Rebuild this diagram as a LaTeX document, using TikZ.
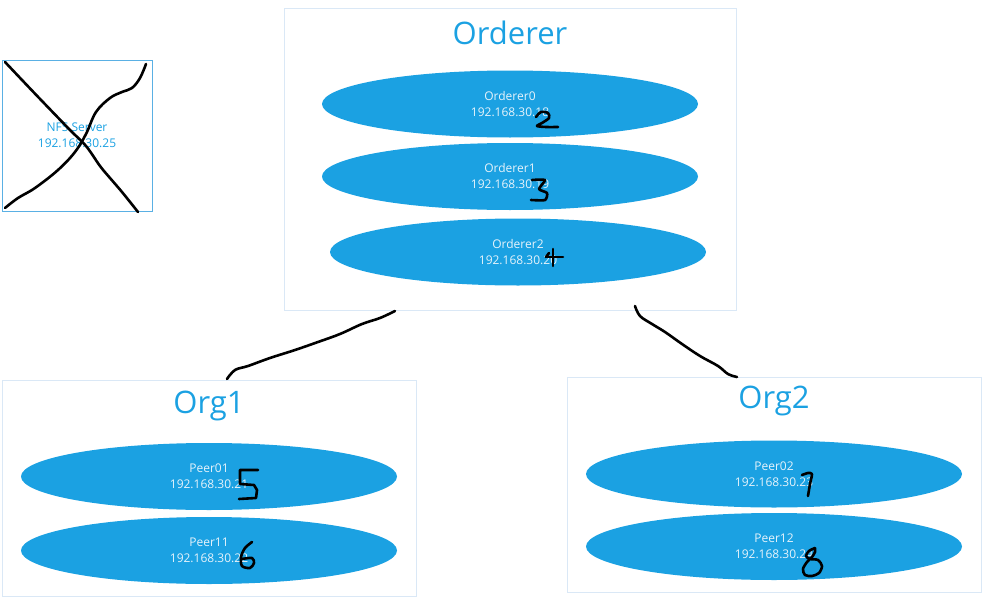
\documentclass[tikz,border=0pt]{standalone}
\usepackage{fontspec}
\setmainfont{Open Sans}
\usetikzlibrary{shapes.geometric}
\definecolor{nodeblue}{HTML}{1BA1E2}
\definecolor{boxline}{HTML}{DAE8F6}
\definecolor{nfsline}{HTML}{5AB0E4}
\definecolor{lighttext}{HTML}{E6F3FB}
\tikzset{
  grpbox/.style={draw=boxline, line width=0.8pt, minimum width=#1, inner sep=0pt},
  grptitle/.style={text=nodeblue, font=\fontsize{31}{36}\selectfont, inner sep=0pt},
  member/.style={ellipse, fill=nodeblue, draw=none, minimum width=376pt, minimum height=67pt,
    inner sep=0pt, text=lighttext, align=center, font=\fontsize{12}{16}\selectfont},
  hand/.style={line width=2.6pt, black, line cap=round, line join=round},
  digit/.style={line width=2.6pt, black, line cap=round, line join=round}
}
\begin{document}
\begin{tikzpicture}[x=1pt,y=-1pt]
\useasboundingbox (0,0) rectangle (983,597);
% NFS server
\node[draw=nfsline, line width=0.8pt, minimum width=150pt, minimum height=151pt, inner sep=0pt,
  text=nodeblue, align=center, font=\fontsize{12}{16}\selectfont] (nfs) at (77,135.5) {NFS Server\\192.168.30.25};
% Orderer group
\node[grpbox=452pt, minimum height=302pt] (ordbox) at (510,159) {};
\node[grptitle] (ordtitle) at (510,33) {Orderer};
\node[member] (o0) at (510,104) {Orderer0\\192.168.30.18};
\node[member] (o1) at (510,176.5) {Orderer1\\192.168.30.19};
\node[member] (o2) at (518,252) {Orderer2\\192.168.30.20};
% Org1
\node[grpbox=414pt, minimum height=216pt] (org1box) at (209,488) {};
\node[grptitle] (org1title) at (209,406) {Org1};
\node[member] (p01) at (209,476.5) {Peer01\\192.168.30.21};
\node[member] (p11) at (209,550.5) {Peer11\\192.168.30.22};
% Org2
\node[grpbox=414pt, minimum height=215pt] (org2box) at (774,484.5) {};
\node[grptitle] (org2title) at (774,401) {Org2};
\node[member] (p02) at (774,474) {Peer02\\192.168.30.23};
\node[member] (p12) at (774,546.5) {Peer12\\192.168.30.24};
% cross over the NFS server
\draw[hand] plot[smooth, tension=0.6] coordinates {(5,62) (22,80) (42,101) (70,130) (86,146) (100,166) (110,178) (122,192) (138,212)};
\draw[hand] plot[smooth, tension=0.6] coordinates {(5,208) (18,198) (35,188) (58,170) (75,152) (86,134) (96,112) (110,98) (122,92) (132,88) (140,78) (146,64)};
% handwritten connectors
\coordinate (c1a) at (395,311);
\coordinate (c1b) at (227,379);
\coordinate (c2a) at (635,306);
\coordinate (c2b) at (737,377);
\draw[hand] plot[smooth, tension=0.6] coordinates {(c1a) (380,318) (362,324) (340,334) (318,342) (295,350) (270,358) (248,366) (235,370) (c1b)};
\draw[hand] plot[smooth, tension=0.6] coordinates {(c2a) (640,316) (652,324) (665,332) (682,344) (700,356) (718,366) (728,374) (c2b)};
% handwritten numbers
\draw[digit] plot[smooth, tension=0.5] coordinates {(536,117) (541,112) (548,113) (549,118) (542,123) (537,126) (546,127) (558,127)};
\draw[digit] plot[smooth, tension=0.4] coordinates {(532,180) (545,180) (539,189) (547,193) (545,200) (531,200)};
\draw[digit] (553,249) -- (553,266);
\draw[digit] (546,257) -- (563,257);
\draw[digit] (549,253) -- (546,257);
\draw[digit] (258,470) -- (240,470) -- (240,484) -- (254,485) -- (257,490) -- (256,498) -- (239,499);
\draw[digit] plot[smooth, tension=0.5] coordinates {(252,542) (245,548) (241,557) (242,566) (250,568) (254,563) (252,558) (242,559)};
\draw[digit] plot[smooth, tension=0.4] coordinates {(802,475) (808,473) (812,474) (810,484) (808,496)};
\draw[digit] plot[smooth, tension=0.5] coordinates {(815,548) (809,551) (806,556) (810,559) (818,560) (822,566) (819,573) (812,576) (805,575) (803,569) (807,562) (812,557) (815,552) (815,548)};
\end{tikzpicture}
\end{document}
